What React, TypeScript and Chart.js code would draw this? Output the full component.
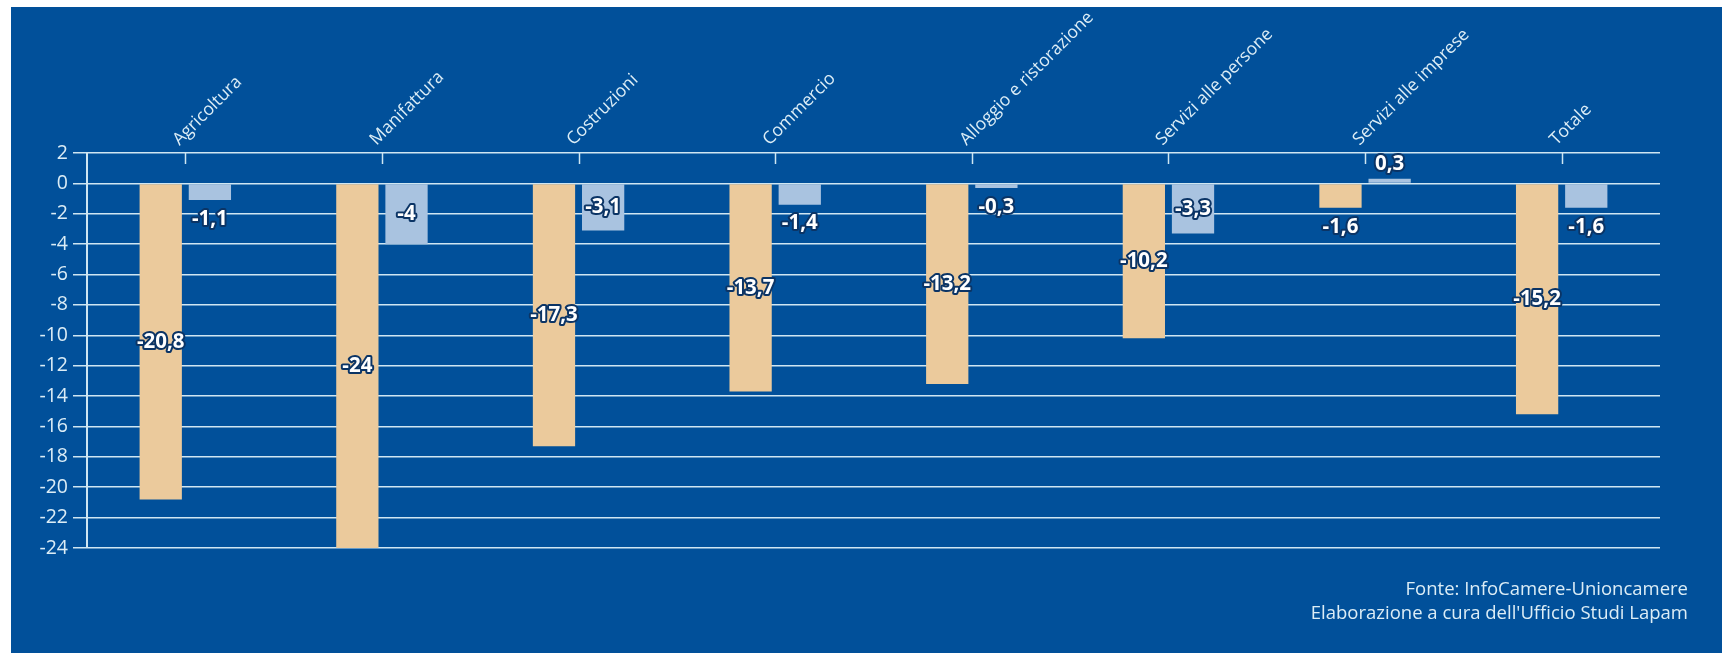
import React, { useEffect, useRef } from "react";
import { Chart, registerables } from "chart.js";

Chart.register(...registerables);

const categories = [
  "Agricoltura",
  "Manifattura",
  "Costruzioni",
  "Commercio",
  "Alloggio e ristorazione",
  "Servizi alle persone",
  "Servizi alle imprese",
  "Totale",
];
const seriesA = [-20.8, -24, -17.3, -13.7, -13.2, -10.2, -1.6, -15.2];
const seriesB = [-1.1, -4, -3.1, -1.4, -0.3, -3.3, 0.3, -1.6];
const yMin = -24;
const yMax = 2;
const yStep = 2;
const sourceLines = [
  "Fonte: InfoCamere-Unioncamere",
  "Elaborazione a cura dell'Ufficio Studi Lapam",
];

const BG = "#01509a";
const GRID = "#cfe6f2";
const TEXT = "#dcedf6";
const FONT = "'Open Sans', 'Noto Sans', sans-serif";

const fmt = (v: number) => String(v).replace(".", ",");

const decorPlugin = {
  id: "decor",
  afterDraw(chart: any) {
    const ctx = chart.ctx;
    const x = chart.scales.x;
    const area = chart.chartArea;
    // inward tick marks and rotated category labels
    ctx.save();
    ctx.strokeStyle = GRID;
    ctx.lineWidth = 1.5;
    ctx.fillStyle = TEXT;
    ctx.font = `500 17.5px ${FONT}`;
    ctx.textAlign = "left";
    ctx.textBaseline = "alphabetic";
    for (let i = 0; i < categories.length; i++) {
      const px = Math.round(x.getPixelForValue(i)) + 0.5;
      ctx.beginPath();
      ctx.moveTo(px, area.top);
      ctx.lineTo(px, area.top + 11);
      ctx.stroke();
      ctx.save();
      ctx.translate(px - 6, area.top - 7);
      ctx.rotate(-Math.PI / 4);
      ctx.fillText(categories[i], 0, 0);
      ctx.restore();
    }
    ctx.restore();
    // data labels
    ctx.save();
    ctx.font = `bold 20.5px ${FONT}`;
    ctx.textAlign = "center";
    ctx.textBaseline = "middle";
    ctx.lineJoin = "round";
    chart.data.datasets.forEach((ds: any, di: number) => {
      const meta = chart.getDatasetMeta(di);
      meta.data.forEach((bar: any, i: number) => {
        const v = ds.data[i];
        const props = bar.getProps(["x", "y", "base"], true);
        const h = Math.abs(props.base - props.y);
        let ly: number;
        if (h > 30) {
          ly = (props.base + props.y) / 2;
        } else if (v >= 0) {
          ly = props.y - 15;
        } else {
          ly = props.y + 19;
        }
        const t = fmt(v);
        ctx.strokeStyle = "#0b3465";
        ctx.lineWidth = 4;
        ctx.strokeText(t, props.x, ly);
        ctx.fillStyle = "#ffffff";
        ctx.fillText(t, props.x, ly);
      });
    });
    ctx.restore();
  },
};

export default function App() {
  const ref = useRef<HTMLCanvasElement | null>(null);
  useEffect(() => {
    if (!ref.current) return;
    const chart = new Chart(ref.current, {
      type: "bar",
      data: {
        labels: categories,
        datasets: [
          {
            label: "A",
            data: seriesA,
            backgroundColor: "#ebca9c",
            categoryPercentage: 0.5,
            barPercentage: 0.86,
          },
          {
            label: "B",
            data: seriesB,
            backgroundColor: "#a9c3e0",
            categoryPercentage: 0.5,
            barPercentage: 0.86,
          },
        ],
      },
      options: {
        animation: false,
        responsive: false,
        maintainAspectRatio: false,
        layout: { padding: { top: 0, left: 0, right: 62, bottom: 105 } },
        plugins: {
          legend: { display: false },
          tooltip: { enabled: false },
          title: { display: false },
        },
        scales: {
          x: {
            position: "top",
            grid: { display: false, drawTicks: false },
            border: { display: false },
            ticks: { display: false },
            afterFit: (s: any) => {
              s.height = 146;
            },
          },
          y: {
            min: yMin,
            max: yMax,
            grid: {
              color: GRID,
              lineWidth: 1.5,
              tickLength: 14,
              drawTicks: true,
            },
            border: { display: true, color: GRID, width: 2 },
            ticks: {
              stepSize: yStep,
              color: TEXT,
              font: { family: FONT, size: 19.5, weight: "500" },
              padding: 5,
              callback: (v: any) => fmt(Number(v)),
            },
            afterFit: (s: any) => {
              s.width = 76;
            },
          },
        },
      },
      plugins: [decorPlugin],
    });
    return () => chart.destroy();
  }, []);

  return (
    <div
      style={{
        position: "fixed",
        left: 11,
        top: 7,
        width: 1711,
        height: 646,
        background: BG,
        fontFamily: FONT,
      }}
    >
      <canvas ref={ref} width={1711} height={646} style={{ display: "block" }} />
      <div
        style={{
          position: "absolute",
          right: 34,
          top: 569,
          textAlign: "right",
          color: TEXT,
          fontSize: 18.5,
          fontWeight: 500,
          lineHeight: "24px",
        }}
      >
        {sourceLines.map((l) => (
          <div key={l}>{l}</div>
        ))}
      </div>
    </div>
  );
}
